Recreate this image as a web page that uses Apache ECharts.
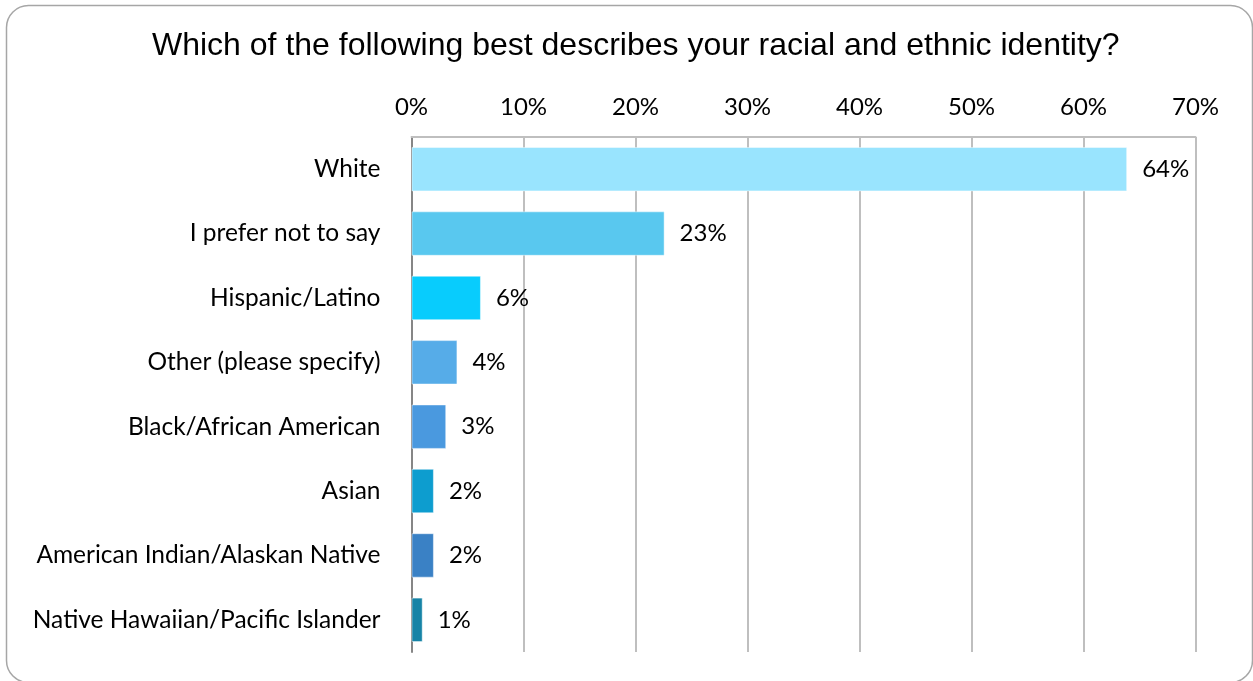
<!DOCTYPE html>
<html>
<head>
<meta charset="utf-8">
<script src="https://cdn.jsdelivr.net/npm/echarts@6/dist/echarts.min.js"></script>
<style>
html,body{margin:0;padding:0;background:#fff;}
#chart{width:1253px;height:681px;}
</style>
</head>
<body>
<div id="chart"></div>
<script>
const titleText = "Which of the following best describes your racial and ethnic identity?";
const categories = ["White", "I prefer not to say", "Hispanic/Latino", "Other (please specify)", "Black/African American", "Asian", "American Indian/Alaskan Native", "Native Hawaiian/Pacific Islander"];
const values = [63.9, 22.6, 6.2, 4.1, 3.1, 2.0, 2.0, 1.0];
const valueLabels = ["64%", "23%", "6%", "4%", "3%", "2%", "2%", "1%"];
const barColors = ["#99E4FE", "#59C8EF", "#08CCFD", "#56ACE8", "#4A99DF", "#0D9DCF", "#3A81C5", "#1683A6"];
const axisMin = 0, axisMax = 70, axisStep = 10;

const chart = echarts.init(document.getElementById('chart'), null, {renderer: 'canvas'});
const labelFont = 'Lato, "Open Sans", sans-serif';
chart.setOption({
  animation: false,
  backgroundColor: '#ffffff',
  graphic: [{
    type: 'rect',
    shape: {x: 6.5, y: 5.5, width: 1246, height: 677, r: 22},
    style: {fill: 'none', stroke: '#A6A6A6', lineWidth: 1.5},
    z: -1
  }],
  title: {
    text: titleText,
    left: 147,
    top: 25,
    textStyle: {fontFamily: '"Liberation Sans", Arial, sans-serif', fontSize: 32, fontWeight: 'normal', color: '#000'}
  },
  grid: {left: 411.5, right: 57.5, top: 137, bottom: 29, containLabel: false},
  xAxis: {
    type: 'value',
    position: 'top',
    min: axisMin, max: axisMax, interval: axisStep,
    axisLine: {show: true, lineStyle: {color: '#BFBFBF', width: 2}},
    axisTick: {show: false},
    splitLine: {show: true, lineStyle: {color: '#BFBFBF', width: 2}},
    axisLabel: {formatter: '{value}%', margin: 18, fontFamily: labelFont, fontSize: 24, color: '#000'}
  },
  yAxis: {
    type: 'category',
    data: categories,
    inverse: true,
    axisLine: {show: true, lineStyle: {color: '#868686', width: 2}},
    axisTick: {show: false},
    axisLabel: {margin: 31, padding: [4, 0, 0, 0], fontFamily: labelFont, fontSize: 24.5, color: '#000'}
  },
  series: [{
    type: 'bar',
    data: values.map((v, i) => ({value: v, itemStyle: {color: barColors[i]}})),
    barCategoryGap: '31%',
    itemStyle: {borderColor: 'rgba(255,255,255,0.45)', borderWidth: 1},
    label: {
      show: true,
      position: 'right',
      distance: 15,
      padding: [4, 0, 0, 0],
      formatter: p => valueLabels[p.dataIndex],
      fontFamily: labelFont, fontSize: 24, color: '#000'
    }
  }]
});
</script>
</body>
</html>
